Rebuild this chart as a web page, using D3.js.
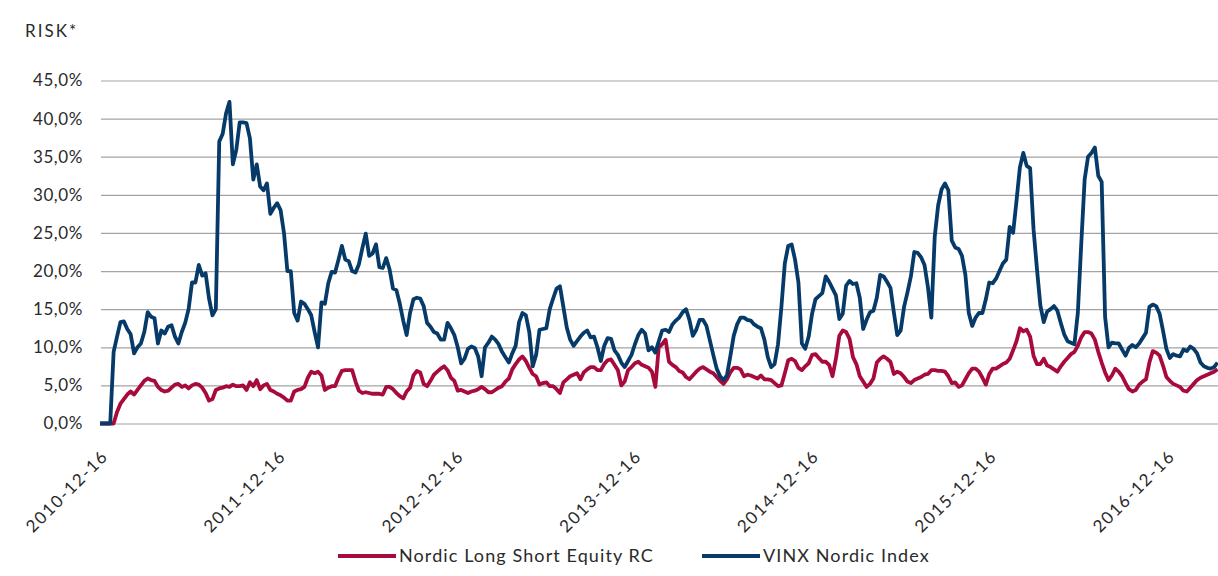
<!DOCTYPE html>
<html>
<head>
<meta charset="utf-8">
<script src="https://cdn.jsdelivr.net/npm/d3@7"></script>
<style>
  body { margin: 0; background: #fff; }
  text { font-family: Lato, "Open Sans", sans-serif; fill: #2a2a2a; }
</style>
</head>
<body>
<svg id="chart" width="1218" height="576"></svg>
<script>
// ---------------- data ----------------
const startDate = "2010-11-18";   // first weekly observation
const endDate = "2017-03-03";     // right edge of the axis
const stepDays = 7;               // weekly observations
const yTicks = [0, 5, 10, 15, 20, 25, 30, 35, 40, 45];
const xTickLabels = ["2010-12-16", "2011-12-16", "2012-12-16", "2013-12-16", "2014-12-16", "2015-12-16", "2016-12-16"];
const yTitle = "RISK*";
const seriesNames = ["Nordic Long Short Equity RC", "VINX Nordic Index"];

const nordicLS = [
  0,0,0,0,0,1.5,2.6,3.2,3.8,4.2,
  3.8,4.4,5,5.6,5.9,5.7,5.6,4.8,4.4,4.2,
  4.3,4.7,5.1,5.2,4.8,5,4.6,5,5.2,5.1,
  4.7,4,3,3.2,4.4,4.6,4.7,4.9,4.8,5.1,
  4.9,4.9,5,4.4,5.4,4.9,5.7,4.5,5,5.2,
  4.4,4.2,3.9,3.7,3.4,3,3,4.2,4.4,4.5,
  4.8,6,6.8,6.6,6.8,6.3,4.4,4.7,4.9,4.9,
  6,6.9,7,7,7,5.5,4.3,4,4.1,4,
  3.9,3.9,3.9,3.8,4.8,4.8,4.5,4,3.6,3.3,
  4.2,4.7,6.3,6.9,6.7,5.2,4.9,5.6,6.4,6.8,
  7.2,7.5,7,6,5.6,4.3,4.4,4.2,4,4.2,
  4.3,4.5,4.8,4.5,4.1,4.1,4.4,4.7,4.9,5.5,
  5.9,7.1,7.8,8.4,8.8,8.2,7.3,6.5,6.2,5.1,
  5.3,5.4,4.9,4.9,4.5,4,5.4,5.8,6.2,6.4,
  6.6,5.8,6.7,7.1,7.4,7.4,7,7,7.8,8.3,
  8.4,7.7,7,5,5.5,7,7.4,7.9,8.1,7.7,
  7.5,7.3,6.8,4.8,10,10.4,11,8.1,7.7,7.4,
  6.9,6.7,6.1,5.8,6.3,6.8,7.2,7.4,7.1,6.8,
  6.6,6.1,5.6,5.2,5.8,6.7,7.3,7.3,7.1,6.2,
  6.4,6.3,6.1,5.9,6.3,5.8,5.8,5.7,5.3,4.9,
  5,6.6,8.3,8.5,8.2,7.3,7,7.5,7.9,9,
  9.1,8.6,8.1,8.1,7.7,6.2,8.5,11.5,12.2,12,
  11.1,8.7,7.8,6.2,5.5,4.8,5.2,5.9,8,8.5,
  8.8,8.5,8.1,6.5,6.8,6.6,6.1,5.5,5.3,5.7,
  5.9,6.1,6.4,6.5,7,7,6.9,6.9,6.8,6.2,
  5.3,5.4,4.8,5,5.8,6.6,7.2,7.2,6.8,6,
  5.1,6.5,7.2,7.2,7.5,7.8,8,8.5,9.6,10.8,
  12.5,12.1,12.3,11.4,8.9,7.8,7.8,8.5,7.6,7.4,
  7.1,6.8,7.5,8.1,8.6,9.1,9.4,10.2,11.3,12,
  12,11.8,11,9.4,8,6.7,5.7,6.3,7.2,6.8,
  6.2,5.3,4.5,4.2,4.4,5.1,5.5,5.8,8,9.5,
  9.3,8.9,7.6,6.1,5.6,5.2,5,4.8,4.3,4.2,
  4.7,5.2,5.7,6,6.2,6.4,6.6,6.8,7.1
];

const vinx = [
  0,0,0,0,9.4,11.4,13.3,13.4,12.4,11.7,
  9.2,10,10.5,12,14.6,14,13.8,10.5,12.2,11.8,
  12.7,12.9,11.4,10.5,12,13.2,15,18.5,18.5,20.8,
  19.4,19.7,16.4,14.2,15,37,38,40.7,42.2,34,
  35.9,39.5,39.5,39.4,37.4,32,34,31.1,30.6,31.5,
  27.5,28.3,28.9,28,25,20,20,14.5,13.5,16,
  15.7,15,14.2,12,10,15.9,15.7,18.4,19.9,19.8,
  21.5,23.3,21.5,21.3,20,19.8,20.9,23,24.9,22,
  22.3,23.5,20.5,20.4,21.7,20.2,17.7,17.5,15.7,13.5,
  11.6,14.5,16.3,16.5,16.4,15.4,13.2,12.7,12,11.8,
  11,11,13.2,12.5,11.6,10,7.9,8.5,9.8,10.1,
  9.9,8.8,6.2,10,10.6,11.4,11,10.4,9.4,8.7,
  8,9.2,10.2,13.3,14.5,14.2,12,7.5,9,12.3,
  12.4,12.5,15,16.4,17.7,18,15.3,12.6,11,10.2,
  10.8,11.4,11.9,12.2,11.3,11.4,10,8.2,10.2,11.2,
  11.1,9.6,9,8,7.4,8.2,9,10.4,11.6,12.3,
  11.8,9.6,10,9.3,10.8,12.2,12.3,12,13,13.5,
  13.9,14.6,15,13.6,11.5,12.3,13.6,13.6,12.8,10.9,
  9,7.2,6.2,5.7,6.3,8.8,11.5,13,13.9,13.9,
  13.6,13.5,13,12.7,12.5,11,8.7,7.4,7.8,10.4,
  15.3,21,23.3,23.5,21.5,18.5,10.5,9.8,11.4,14.4,
  16.3,16.7,17.1,19.3,18.6,17.7,16.8,13.7,14.4,18.1,
  18.7,18.3,18.4,16.5,12.4,13.6,14.6,14.8,16.5,19.5,
  19.3,18.6,17.8,14.6,11.6,12.2,15.3,17.2,19.3,22.5,
  22.4,21.8,20.8,17.9,13.9,24.5,28.6,30.7,31.5,30.6,
  24,23.1,22.9,22,19.5,14.5,12.8,13.9,14.5,14.5,
  16.3,18.5,18.4,19,20,21,21.5,25.8,25,29.2,
  33.6,35.5,33.8,33.5,25.5,20.3,15.5,13.3,14.7,15,
  15.4,14.8,13.2,11.7,10.8,10.6,10.4,14.5,23.5,32,
  35,35.5,36.2,32.5,31.7,14,10,10.6,10.5,10.5,
  9.7,8.9,9.9,10.3,10,10.5,11.2,11.9,15.3,15.6,
  15.4,14.4,12.2,9.8,8.6,9.1,8.9,8.8,9.7,9.5,
  10.1,9.8,9.2,8,7.5,7.3,7.2,7.4,8
];

const colors = ["#a80a3c", "#063a68"];

// ---------------- chart ----------------
const W = 1218, H = 576;
const margin = { left: 100, right: 0, top: 80.5, bottom: 152.5 };
const svg = d3.select("#chart");
const parse = d3.utcParse("%Y-%m-%d");
const t0 = parse(startDate);
const dates = nordicLS.map((_, i) => d3.utcDay.offset(t0, i * stepDays));

const x = d3.scaleUtc().domain([t0, parse(endDate)]).range([margin.left, W - margin.right]);
const y = d3.scaleLinear().domain([0, 45]).range([H - margin.bottom, margin.top]);

// gridlines
const grid = svg.append("g")
  .attr("transform", "translate(101,0)")
  .call(d3.axisLeft(y).tickValues(yTicks).tickSize(-(W - 101)).tickFormat(""));
grid.select(".domain").remove();
grid.selectAll(".tick line").attr("stroke", "#a3a3a3").attr("stroke-width", 1.2);

// y labels
const yAxis = svg.append("g")
  .attr("transform", "translate(83,0)")
  .call(d3.axisLeft(y).tickValues(yTicks).tickSize(0).tickPadding(0)
    .tickFormat(d => d.toFixed(1).replace(".", ",") + "%"));
yAxis.select(".domain").remove();
yAxis.selectAll("text")
  .attr("font-size", 17).attr("letter-spacing", "0.6px")
  .attr("font-family", "Lato, sans-serif").attr("fill", "#2a2a2a");

// y title
svg.append("text").attr("x", 25).attr("y", 37).attr("font-size", 17)
  .attr("letter-spacing", "2px").text(yTitle);

// x labels
const xAxis = svg.append("g")
  .attr("transform", `translate(0,${H - margin.bottom})`)
  .call(d3.axisBottom(x).tickValues(xTickLabels.map(parse)).tickSize(0)
    .tickFormat(d3.utcFormat("%Y-%m-%d")));
xAxis.select(".domain").remove();
xAxis.selectAll("text")
  .attr("font-size", 17).attr("letter-spacing", "1.6px")
  .attr("font-family", "Lato, sans-serif").attr("fill", "#333")
  .attr("text-anchor", "end")
  .attr("dy", null).attr("y", null)
  .attr("transform", "translate(-5,34) rotate(-45)");

// lines
const line = d3.line().x((d, i) => x(dates[i])).y(d => y(d));
[nordicLS, vinx].forEach((s, k) => {
  svg.append("path").datum(s)
    .attr("fill", "none").attr("stroke", colors[k])
    .attr("stroke-width", 3.8).attr("stroke-linejoin", "round")
    .attr("d", line);
});

// legend
const legendPos = [{ x: 338, tx: 399 }, { x: 702, tx: 763 }];
const lg = svg.append("g");
seriesNames.forEach((n, k) => {
  lg.append("line").attr("x1", legendPos[k].x).attr("x2", legendPos[k].x + 58)
    .attr("y1", 556).attr("y2", 556).attr("stroke", colors[k]).attr("stroke-width", 4);
  lg.append("text").attr("x", legendPos[k].tx).attr("y", 562).attr("font-size", 18)
    .attr("letter-spacing", "1.1px").text(n);
});
</script>
</body>
</html>
